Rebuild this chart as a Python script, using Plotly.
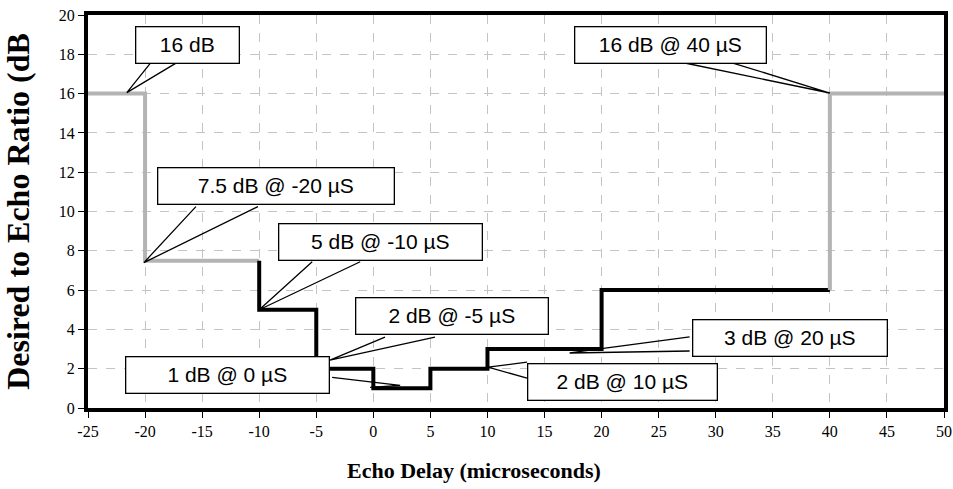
import plotly.graph_objects as go

# ---- data ----
gray_left_delay = [-25, -20, -10]
gray_left_ratio = [16, 7.5, 7.5]
black_delay = [-10, -5, 0, 5, 10, 20, 40]
black_ratio = [7.5, 5, 2, 1, 2, 3, 6]
gray_right_delay = [40, 50]
gray_right_ratio = [6, 16]

x_ticks = [-25, -20, -15, -10, -5, 0, 5, 10, 15, 20, 25, 30, 35, 40, 45, 50]
y_ticks = [0, 2, 4, 6, 8, 10, 12, 14, 16, 18, 20]

callout_labels = ["16 dB", "7.5 dB @ -20 µS", "5 dB @ -10 µS", "2 dB @ -5 µS",
                  "1 dB @ 0 µS", "2 dB @ 10 µS", "3 dB @ 20 µS", "16 dB @ 40 µS"]
callout_tip_x = [-21.6, -20.1, -10, -3.8, 2.35, 10.05, 17.2, 40]
callout_tip_y = [16.05, 7.4, 5, 2.44, 1.15, 2.08, 2.8, 16.03]

GRAY = "#b4b4b4"
SERIF = "Liberation Serif, Times New Roman, serif"

fig = go.Figure()
fig.add_trace(go.Scatter(x=gray_left_delay, y=gray_left_ratio, mode="lines",
                         line=dict(color=GRAY, width=4, shape="hv"), showlegend=False))
fig.add_trace(go.Scatter(x=black_delay, y=black_ratio, mode="lines",
                         line=dict(color="black", width=4, shape="vh"), showlegend=False))
fig.add_trace(go.Scatter(x=gray_right_delay, y=gray_right_ratio, mode="lines",
                         line=dict(color=GRAY, width=4, shape="vh"), showlegend=False))

# callout layout: box centre (data units), total box width (px),
# wedge base points relative to the tip (px, right / up)
box_pos = [(-16.28, 18.47, 105), (-8.53, 11.3, 238), (0.63, 8.47, 205), (6.89, 4.66, 194),
           (-12.78, 1.68, 205), (21.83, 1.32, 191), (36.51, 3.54, 196), (26.04, 18.47, 193)]
wedges = [((24, 30), (50, 30)), ((52, 56), (114, 56)), ((53, 48), (101, 48)),
          ((55, 23), (105, 23)), ((-68, 8), (-30, -2)), ((39, 5), (39, -11)),
          ((120, 16), (120, 2)), ((-145, 30), (-97, 30))]

for lab, tx, ty, (bx, by, bw), ((x1, y1), (x2, y2)) in zip(
        callout_labels, callout_tip_x, callout_tip_y, box_pos, wedges):
    fig.add_shape(type="path", xref="x", yref="y", xsizemode="pixel", ysizemode="pixel",
                  xanchor=tx, yanchor=ty, layer="above",
                  path=f"M{x1},{y1} L0,0 L{x2},{y2}",
                  line=dict(color="black", width=1.3))
    fig.add_annotation(x=bx, y=by, xref="x", yref="y", showarrow=False,
                       text=lab,
                       font=dict(family="Liberation Sans, Arial", size=21, color="black"),
                       bgcolor="white", bordercolor="black", borderwidth=1.3, borderpad=5,
                       width=bw - 13, height=25, align="center", valign="middle")

# x-axis title (sits left of centre in the reference)
fig.add_annotation(xref="paper", yref="paper", x=0.451, y=-0.158, showarrow=False,
                   text="<b>Echo Delay (microseconds)</b>", xanchor="center", yanchor="middle",
                   font=dict(size=22, family=SERIF, color="black"))

fig.update_layout(
    width=953, height=489,
    margin=dict(l=88, r=9, t=15, b=81, autoexpand=False),
    paper_bgcolor="white", plot_bgcolor="white",
    font=dict(family=SERIF, color="black"),
    xaxis=dict(range=[-25, 50], tickvals=x_ticks, ticktext=[str(v) for v in x_ticks],
               showgrid=True, gridcolor="#c4c4c4", griddash="dash", gridwidth=1,
               showline=True, linecolor="black", linewidth=4, mirror=True,
               ticks="outside", ticklen=6, tickcolor="black", tickwidth=1,
               zeroline=False, automargin=False,
               tickfont=dict(size=16, family=SERIF)),
    yaxis=dict(range=[0, 20], tickvals=y_ticks, ticktext=[str(v) for v in y_ticks],
               showgrid=True, gridcolor="#c4c4c4", griddash="dash", gridwidth=1,
               showline=True, linecolor="black", linewidth=4, mirror=True,
               ticks="outside", ticklen=6, tickcolor="black", tickwidth=1,
               zeroline=False, automargin=False,
               tickfont=dict(size=16, family=SERIF),
               title=dict(text="<b>Desired to Echo Ratio (dB</b>",
                          font=dict(size=32, family=SERIF), standoff=26)),
)

fig.write_html("out.html", config={"displayModeBar": False},
               post_script="document.body.style.margin='0';")
